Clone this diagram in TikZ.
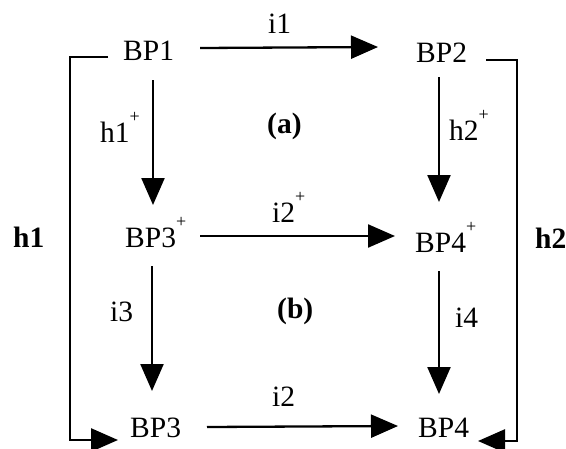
\documentclass[tikz,border=0pt]{standalone}
\usepackage{fontspec}
\setmainfont{Liberation Serif}
\usetikzlibrary{arrows.meta,calc}
\newcommand\plusup{\raisebox{20pt}{\fontsize{18}{18}\selectfont +}}
\tikzset{
  lbl/.style={anchor=base west, inner sep=0pt, font=\fontsize{29.5}{34}\selectfont},
  blbl/.style={lbl, font=\fontsize{29.5}{34}\selectfont\bfseries},
  arr/.style={line width=2.3pt, -{Triangle[length=27pt,width=23pt]}},
  brk/.style={line width=2.6pt, -{Triangle[length=27pt,width=23pt]}}
}
\begin{document}
\begin{tikzpicture}[x=1pt,y=-1pt]
\useasboundingbox (0,0) rectangle (566,448);
% nodes
\node[lbl] (BP1) at (123,60) {BP1};
\node[lbl] (BP2) at (416,62) {BP2};
\node[lbl] (BP3p) at (125,247) {BP3\plusup};
\node[lbl] (BP4p) at (415,252) {BP4\plusup};
\node[lbl] (BP3) at (130,437) {BP3};
\node[lbl] (BP4) at (418,437) {BP4};
% labels
\node[lbl] (li1) at (268,33) {i1};
\node[lbl] (li2p) at (272,222) {i2\plusup};
\node[lbl] (li2) at (272,406) {i2};
\node[blbl] (lh1) at (13,247) {h1};
\node[blbl] (lh2) at (535,248) {h2};
\node[blbl] (la) at (267,133) {(a)};
\node[blbl] (lb) at (277,318) {(b)};
\node[lbl] (lh1p) at (100,142) {h1\plusup};
\node[lbl] (lh2p) at (449,140) {h2\plusup};
\node[lbl] (li3) at (110,321) {i3};
\node[lbl] (li4) at (455,327) {i4};
% arrows
\draw[arr] ($(BP1.base east)+(26,-12)$) -- ($(BP2.base west)+(-38,-15)$);
\draw[arr] ($(BP1.base west)+(30,20)$) -- ($(BP3p.base west)+(28,-42)$);
\draw[arr] ($(BP2.base west)+(23,15)$) -- ($(BP4p.base west)+(24,-50)$);
\draw[arr] ($(BP3p.base west)+(75,-11)$) -- ($(BP4p.base west)+(-20,-16)$);
\draw[arr] ($(BP3p.base west)+(27,19)$) -- ($(BP3.base west)+(22,-46)$);
\draw[arr] ($(BP4p.base west)+(24,19)$) -- ($(BP4.base west)+(21,-43)$);
\draw[arr] ($(BP3.base west)+(77,-10)$) -- ($(BP4.base west)+(-20,-11)$);
% brackets
\draw[brk] ($(BP1.base west)+(-15,-3)$) -- ++(-38,0) |- ($(BP3.base west)+(-12,3)$);
\draw[brk] ($(BP2.base west)+(70,-2)$) -- ++(31,0) |- ($(BP4.base west)+(60,4)$);
\end{tikzpicture}
\end{document}
